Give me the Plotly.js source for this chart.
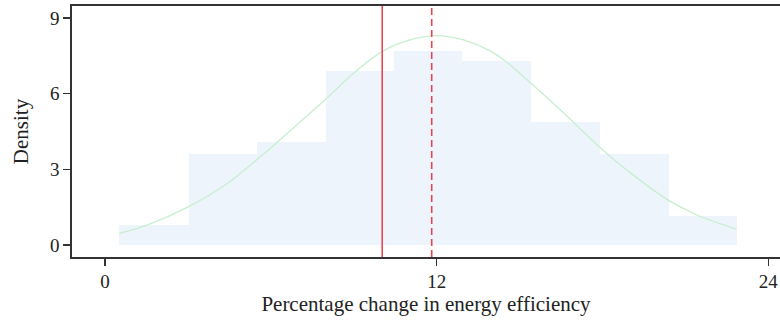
<!DOCTYPE html>
<html>
<head>
<meta charset="utf-8">
<script src="https://cdn.plot.ly/plotly-3.0.1.min.js"></script>
<style>html,body{margin:0;padding:0;background:#fff;}#chart{width:780px;height:326px;}</style>
</head>
<body>
<div id="chart"></div>
<script>
// Histogram bins (edges) and bar heights (density, in %)
var binEdges = [0.52, 3.03, 5.50, 7.98, 10.46, 12.90, 15.41, 17.92, 20.39, 22.85];
var binHeights = [0.79, 3.62, 4.07, 6.90, 7.70, 7.28, 4.88, 3.62, 1.16];

// Fitted normal curve
var curveX = [0.52, 1.5, 3.03, 4.5, 5.97, 7.0, 8.02, 9.0, 10.01, 11.0, 12.0, 13.0, 13.93, 14.5, 15.44, 16.5, 17.91, 19.0, 20.38, 21.5, 22.85];
var curveY = [0.46, 0.78, 1.52, 2.50, 3.83, 4.82, 5.82, 6.82, 7.66, 8.12, 8.30, 8.12, 7.70, 7.28, 6.38, 5.33, 3.87, 2.87, 1.78, 1.15, 0.63];

// Reference lines: solid and dashed
var solidLineX = [10.03];
var dashedLineX = [11.82];

// Tick values
var xTicks = [0, 12, 24];
var yTicks = [0, 3, 6, 9];

var centers = [], widths = [];
for (var i = 0; i < binHeights.length; i++) {
  centers.push((binEdges[i] + binEdges[i + 1]) / 2);
  widths.push(binEdges[i + 1] - binEdges[i]);
}

var font = "'Liberation Serif', 'DejaVu Serif', serif";

var traces = [
  {
    type: 'bar', x: centers, y: binHeights, width: widths,
    marker: {color: '#eef4fc', line: {width: 0}},
    hoverinfo: 'skip', showlegend: false
  },
  {
    type: 'scatter', mode: 'lines', x: curveX, y: curveY,
    line: {color: '#c6efd0', width: 1.3, shape: 'spline', smoothing: 0.8},
    hoverinfo: 'skip', showlegend: false
  }
];

var shapes = [];
solidLineX.forEach(function (v) {
  shapes.push({type: 'line', xref: 'x', yref: 'paper', x0: v, x1: v, y0: 0, y1: 1,
    line: {color: '#e8464f', width: 1.6}});
});
dashedLineX.forEach(function (v) {
  shapes.push({type: 'line', xref: 'x', yref: 'paper', x0: v, x1: v, y0: 0, y1: 1,
    line: {color: '#e8464f', width: 1.6, dash: '7px,4px'}});
});

var layout = {
  width: 780, height: 326,
  margin: {l: 72, r: 0, t: 6, b: 69, pad: 0},
  paper_bgcolor: '#ffffff', plot_bgcolor: '#ffffff',
  font: {family: font, size: 20, color: '#222'},
  bargap: 0,
  showlegend: false,
  xaxis: {
    range: [-1.194, 24.421], showgrid: false, zeroline: false,
    showline: true, mirror: true, linecolor: '#333', linewidth: 1.6,
    ticks: 'outside', ticklen: 7, tickwidth: 1.3, tickcolor: '#333',
    tickvals: xTicks, ticktext: xTicks.map(String),
    tickfont: {family: font, size: 19, color: '#222'},
    title: {text: 'Percentage change in energy efficiency', standoff: 1,
      font: {family: font, size: 21, color: '#222'}}
  },
  yaxis: {
    range: [-0.476, 9.477], showgrid: false, zeroline: false,
    showline: true, mirror: false, linecolor: '#333', linewidth: 1.6,
    ticks: 'outside', ticklen: 7, tickwidth: 1.3, tickcolor: '#333',
    tickvals: yTicks, ticktext: yTicks.map(String),
    tickfont: {family: font, size: 19, color: '#222'},
    title: {text: 'Density', standoff: 16,
      font: {family: font, size: 21, color: '#222'}}
  },
  shapes: shapes
};

Plotly.newPlot('chart', traces, layout, {displayModeBar: false, staticPlot: true});
</script>
</body>
</html>
